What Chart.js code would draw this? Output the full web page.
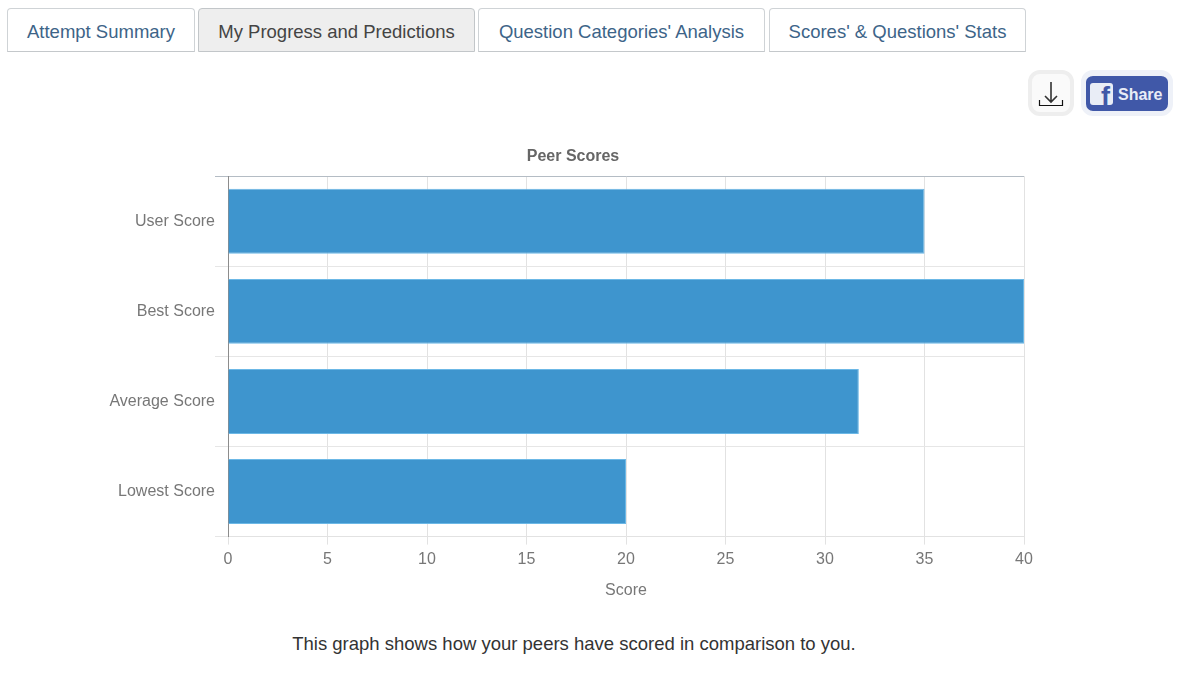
<!DOCTYPE html>
<html><head><meta charset="utf-8">
<script src="https://cdn.jsdelivr.net/npm/chart.js@4/dist/chart.umd.min.js"></script>
<style>
html,body{margin:0;padding:0;background:#fff;width:1188px;height:682px;overflow:hidden;font-family:"Liberation Sans",Arial,sans-serif}
.tab{position:absolute;top:8px;height:44px;box-sizing:border-box;border:1px solid #cfd3d6;border-bottom:1px solid #c4c8cb;border-radius:4px 4px 0 0;font-size:18.5px;line-height:46px;text-align:center;color:#3d6488;background:#fff;white-space:nowrap}
.tab.on{background:#eeeeee;color:#444;border-color:#c2c6c9}
#chartBox{position:absolute;left:100px;top:140px;width:950px;height:470px}
#cap{position:absolute;left:0;width:1148px;top:633px;text-align:center;font-size:18.5px;line-height:22px;color:#333}
#dl{position:absolute;left:1028px;top:70px;width:46px;height:46px;box-sizing:border-box;background:#fafafa;border:4px solid #eeeeee;border-radius:12px}
#sh{position:absolute;left:1081px;top:70px;width:92px;height:46px;box-sizing:border-box;background:#4058a8;border:5px solid #eef1f8;border-top-width:6px;border-radius:12px;color:#e8ecf6;font-weight:bold;font-size:16px;line-height:36px}
#sh b{position:absolute;left:4px;top:7px;width:23px;height:22px;overflow:hidden;background:#e9edf6;border-radius:3px;color:#4058a8;font-size:27px;line-height:29px;text-align:right;padding-right:3px;box-sizing:border-box}
#sh span{position:absolute;left:32px;top:1px}
</style></head><body>
<div class="tab" style="left:7px;width:188px">Attempt Summary</div>
<div class="tab on" style="left:198px;width:277px">My Progress and Predictions</div>
<div class="tab" style="left:478px;width:287px">Question Categories' Analysis</div>
<div class="tab" style="left:769px;width:257px">Scores' &amp; Questions' Stats</div>
<div id="dl"><svg width="38" height="38" viewBox="0 0 38 38"><path d="M19 8V28M13 22L19 28L25 22" fill="none" stroke="#333" stroke-width="1.6"/><path d="M7.5 26V31.5H30.5V26" fill="none" stroke="#111" stroke-width="1.2"/></svg></div>
<div id="sh"><b>f</b><span>Share</span></div>
<div id="chartBox"><canvas id="c"></canvas></div>
<div id="cap">This graph shows how your peers have scored in comparison to you.</div>
<script>
const categories = ["User Score", "Best Score", "Average Score", "Lowest Score"];
const scores = [35, 40, 31.7, 20];
const xTicks = [0, 5, 10, 15, 20, 25, 30, 35, 40];
const chartTitle = "Peer Scores";
const xAxisTitle = "Score";
const font = '"Liberation Sans", Arial, sans-serif';
Chart.defaults.font.family = font;
const titleShift = { id: 'titleShift', afterLayout: ch => { ch.titleBlock.left += 22; } };
new Chart(document.getElementById('c'), {
  type: 'bar',
  plugins: [titleShift],
  data: { labels: categories, datasets: [{ data: scores, backgroundColor: '#3e95ce', borderColor: '#6cb8e6', borderWidth: 1, barPercentage: 0.72, categoryPercentage: 1 }] },
  options: {
    indexAxis: 'y', responsive: true, maintainAspectRatio: false, animation: false,
    layout: { padding: { top: 7, right: 26, bottom: 10, left: 0 } },
    plugins: {
      legend: { display: false }, tooltip: { enabled: false },
      title: { display: true, text: chartTitle, color: '#666', font: { size: 16, weight: 'bold', family: font }, padding: { top: 0, bottom: 10 } }
    },
    scales: {
      x: { min: 0, max: 40, afterBuildTicks: s => { s.ticks = xTicks.map(v => ({ value: v })); },
        grid: { color: '#e2e2e2', tickLength: 8, drawOnChartArea: true },
        border: { color: '#e2e2e2' },
        ticks: { color: '#777', font: { size: 16 }, padding: 5, maxRotation: 0 },
        title: { display: true, text: xAxisTitle, color: '#777', font: { size: 16 }, padding: { top: 7, bottom: 0 } } },
      y: { afterFit: s => { s.width = 128; },
        grid: { color: c => c.index === 0 ? '#b4bcc4' : '#e6e6e6', tickLength: 13, offset: true },
        border: { color: '#8c8c8c' },
        ticks: { color: '#777', font: { size: 16 }, padding: 0 } }
    }
  }
});
</script>
</body></html>
